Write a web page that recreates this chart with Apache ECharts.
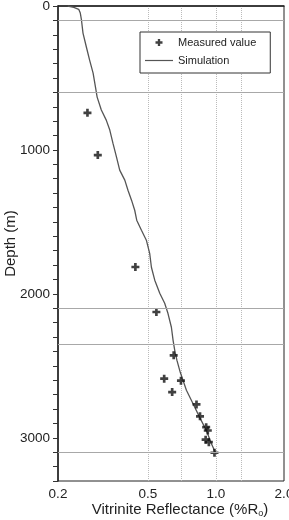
<!DOCTYPE html>
<html>
<head>
<meta charset="utf-8">
<title>Vitrinite reflectance vs depth</title>
<script src="https://cdn.jsdelivr.net/npm/echarts@6/dist/echarts.min.js"></script>
<style>
  html, body { margin: 0; padding: 0; background: #fff; }
  #chart { width: 289px; height: 520px; }
</style>
</head>
<body>
<div id="chart"></div>
<script>
// measured vitrinite reflectance (%Ro) and depth (m)
const measuredRo = [0.27, 0.30, 0.44, 0.545, 0.65, 0.59, 0.70, 0.64, 0.82, 0.85, 0.905, 0.92, 0.90, 0.93, 0.985];
const measuredDepth = [742, 1036, 1813, 2126, 2427, 2589, 2603, 2682, 2768, 2851, 2926, 2949, 3013, 3030, 3104];

// simulated maturity curve
const simRo = [0.221, 0.235, 0.247, 0.251, 0.254, 0.258, 0.267, 0.276, 0.286, 0.293, 0.298, 0.311, 0.327, 0.339,
  0.350, 0.363, 0.375, 0.395, 0.408, 0.423, 0.437, 0.446, 0.468, 0.492, 0.509, 0.518, 0.536, 0.564, 0.593,
  0.613, 0.635, 0.646, 0.657, 0.672, 0.695, 0.740, 0.791, 0.847, 0.907, 0.954, 0.997];
const simDepth = [0, 10, 23, 49, 97, 188, 285, 376, 466, 563, 633, 723, 793, 862,
  953, 1050, 1140, 1210, 1280, 1349, 1419, 1488, 1558, 1627, 1718, 1815, 1905, 1996, 2065,
  2135, 2232, 2323, 2392, 2462, 2545, 2670, 2761, 2858, 2949, 3039, 3108];

// horizontal boundaries (m), dotted Ro guides, tick labels
const boundaries = [100, 600, 2100, 2350, 3100];
const roGuides = [0.5, 0.7, 1.0, 1.3];
const roLabels = [0.2, 0.5, 1.0, 2.0];
const depthLabelStep = 1000;
const depthTickStep = 100;

const plusSymbol = 'path://M2,0H4V2H6V4H4V6H2V4H0V2H2Z';
// thin horizontal stroke, padded to the 28x7 legend box
const lineIcon = 'path://M0,0M0,2.9H28V4.1H0ZM28,7';
const font = 'Liberation Sans, Arial, sans-serif';

const chart = echarts.init(document.getElementById('chart'));

const option = {
  animation: false,
  textStyle: { fontFamily: font },
  grid: {
    left: 58, right: 5, top: 6, bottom: 39,
    outerBoundsMode: 'none',
    containLabel: false,
    show: true, borderColor: '#222', borderWidth: 1
  },
  legend: {
    data: [
      { name: 'Measured value' },
      { name: 'Simulation', icon: lineIcon }
    ],
    orient: 'vertical',
    left: 140, top: 32,
    itemWidth: 28, itemHeight: 7, itemGap: 7,
    padding: [5, 14, 7, 5],
    borderColor: '#333', borderWidth: 1,
    backgroundColor: '#fff',
    textStyle: { fontSize: 11, color: '#222', fontFamily: font }
  },
  xAxis: {
    type: 'log',
    logBase: 10,
    min: 0.2,
    max: 2,
    axisLine: { lineStyle: { color: '#222', width: 1.5 } },
    axisTick: { show: false, customValues: roGuides },
    splitLine: { show: true, lineStyle: { type: 'dotted', color: '#bbb', width: 1 } },
    axisLabel: {
      customValues: roLabels,
      formatter: (v) => Number(v).toFixed(1),
      fontSize: 13.5, color: '#222', margin: 6
    },
    name: 'Vitrinite Reflectance (%R{sub|o})',
    nameLocation: 'middle',
    nameGap: 21,
    nameMoveOverlap: false,
    nameTextStyle: {
      fontSize: 15, color: '#222', padding: [0, 0, 0, 18],
      rich: { sub: { fontSize: 9, padding: [7, 0, 0, 0] } }
    }
  },
  yAxis: {
    type: 'value',
    inverse: true,
    min: 0, max: 3300, interval: depthTickStep,
    axisLine: { show: true, lineStyle: { color: '#222', width: 1.5 } },
    axisTick: { show: true, length: 5, lineStyle: { color: '#333', width: 1 } },
    axisLabel: {
      formatter: (v) => (v % depthLabelStep === 0 ? String(v) : ''),
      fontSize: 13.5, color: '#222', margin: 8
    },
    splitLine: { show: false },
    name: 'Depth (m)',
    nameLocation: 'middle',
    nameGap: 40,
    nameMoveOverlap: false,
    nameTextStyle: { fontSize: 15, color: '#222' }
  },
  series: [
    {
      name: 'Simulation',
      type: 'line',
      data: simRo.map((r, i) => [r, simDepth[i]]),
      symbol: 'none',
      lineStyle: { color: '#555', width: 1.3 },
      itemStyle: { color: '#555' },
      markLine: {
        silent: true,
        symbol: ['none', 'none'],
        label: { show: false },
        lineStyle: { color: '#a8a8a8', width: 1, type: 'solid' },
        data: boundaries.map((d) => ({ yAxis: d }))
      },
      z: 2
    },
    {
      name: 'Measured value',
      type: 'scatter',
      data: measuredRo.map((r, i) => [r, measuredDepth[i]]),
      symbol: plusSymbol,
      symbolSize: 8,
      itemStyle: { color: '#111' },
      z: 3
    }
  ]
};

chart.setOption(option);
</script>
</body>
</html>
